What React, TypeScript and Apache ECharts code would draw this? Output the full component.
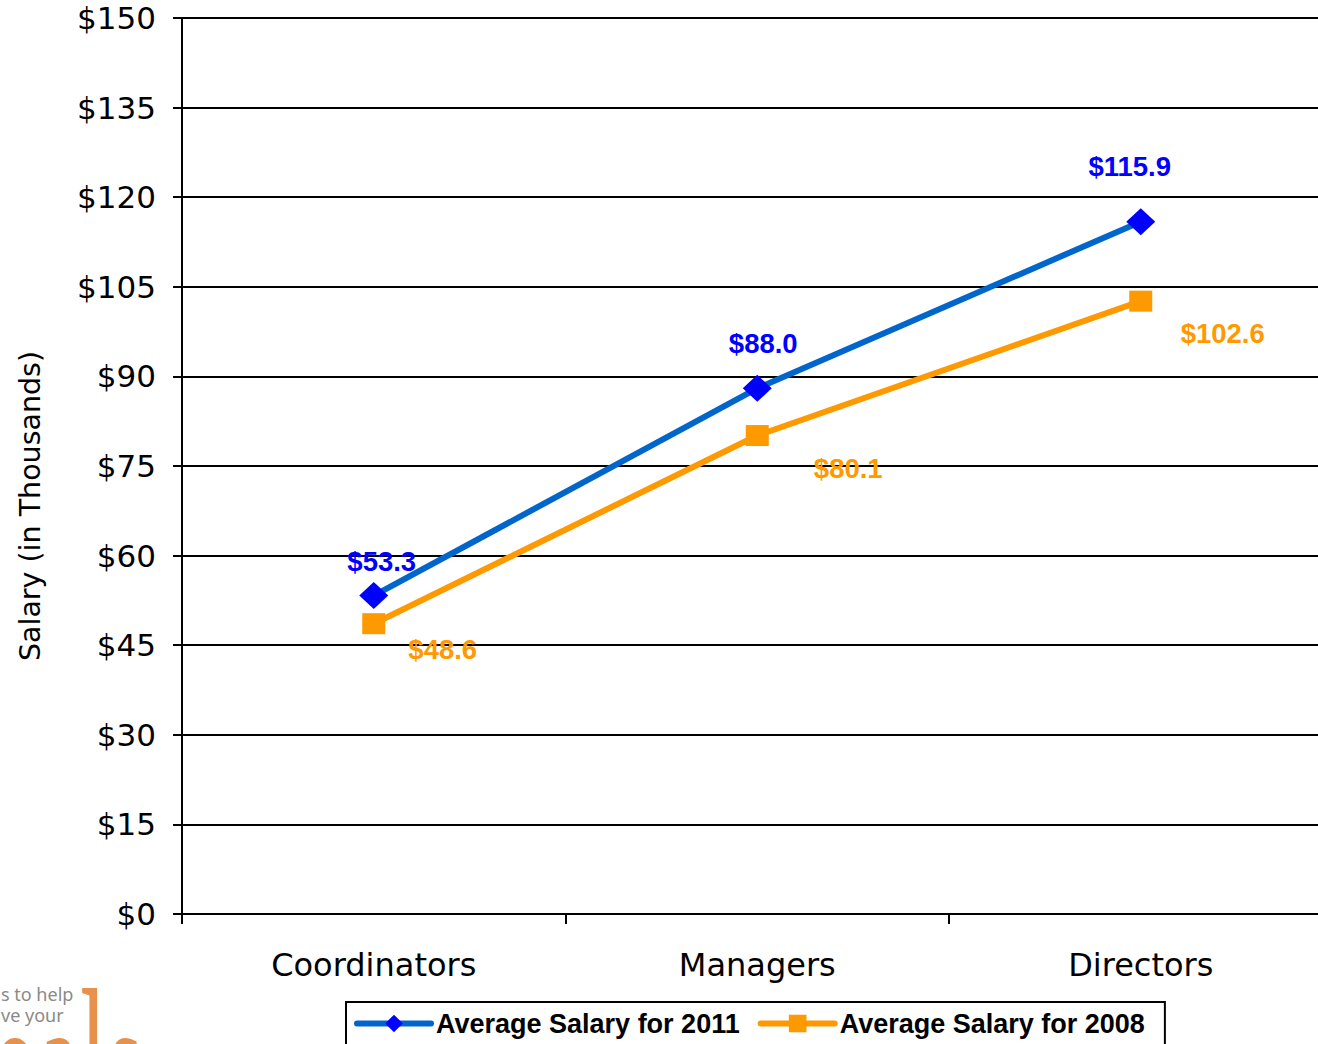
import React, { useEffect, useRef } from "react";
import * as echarts from "echarts";

const categories = ["Coordinators", "Managers", "Directors"];
const salary2011 = [53.3, 88.0, 115.9];
const salary2008 = [48.6, 80.1, 102.6];
const yTicks = [0, 15, 30, 45, 60, 75, 90, 105, 120, 135, 150];
const seriesNames = ["Average Salary for 2011", "Average Salary for 2008"];
const yAxisTitle = "Salary (in Thousands)";
const logoLines = ["s to help", "ve your"];
const logoWord = "oals";

// label placement (style only)
const offsets2011 = [[8, -34], [6, -45], [-11, -55]];
const offsets2008 = [[69, 26], [91, 33], [82, 32]];

export default function App() {
  const ref = useRef<HTMLDivElement>(null);
  useEffect(() => {
    if (!ref.current) return;
    const chart = echarts.init(ref.current, null, { renderer: "svg" });
    const axisFont = "DejaVu Sans";
    const labelFont = "'Liberation Sans', Arial, sans-serif";
    const mk = (vals: number[], offs: number[][]) =>
      vals.map((v, i) => ({ value: v, label: { offset: offs[i] } }));
    chart.setOption({
      animation: false,
      backgroundColor: "#ffffff",
      grid: { left: 182, top: 18, right: 12.5, bottom: 130, containLabel: false },
      xAxis: {
        type: "category",
        data: categories,
        boundaryGap: true,
        axisLine: { lineStyle: { color: "#000", width: 2 } },
        axisTick: { show: true, length: 10, lineStyle: { color: "#000", width: 2 } },
        axisLabel: { color: "#000", fontFamily: axisFont, fontSize: 32, margin: 35 },
      },
      yAxis: {
        type: "value",
        min: yTicks[0],
        max: yTicks[yTicks.length - 1],
        interval: 15,
        axisLine: { show: true, lineStyle: { color: "#000", width: 2 } },
        axisTick: { show: true, length: 9, lineStyle: { color: "#000", width: 2 } },
        axisLabel: {
          color: "#000",
          fontFamily: axisFont,
          fontSize: 31,
          margin: 26,
          formatter: (v: number) => "$" + v,
        },
        splitLine: { show: true, lineStyle: { color: "#000", width: 2 } },
      },
      legend: {
        left: 346,
        top: 1002,
        orient: "horizontal",
        data: seriesNames.map((n) => ({ name: n })),
        borderColor: "#000",
        borderWidth: 2,
        padding: [8, 20, 12, 8],
        itemWidth: 74,
        itemHeight: 22,
        itemGap: 18,
        lineStyle: { width: 6, cap: "round" },
        textStyle: { color: "#000", fontFamily: labelFont, fontWeight: "bold", fontSize: 27 },
      },
      graphic: [
        {
          type: "text",
          x: 30,
          y: 506,
          rotation: Math.PI / 2,
          style: {
            text: yAxisTitle,
            font: "28.5px 'DejaVu Sans'",
            fill: "#000",
            textAlign: "center",
            textVerticalAlign: "middle",
          },
        },
        {
          type: "text",
          x: 1,
          y: 983,
          style: {
            text: logoLines.join("\n"),
            font: "18px 'Noto Sans'",
            lineHeight: 21,
            fill: "#8a8a8a",
            textAlign: "left",
            textVerticalAlign: "top",
          },
        },
        {
          type: "text",
          x: 143,
          y: 1180,
          scaleX: 0.94,
          scaleY: 2.24,
          style: {
            text: logoWord,
            font: "100px 'Liberation Serif'",
            fill: "#E8914A",
            textAlign: "right",
            textVerticalAlign: "bottom",
          },
        },
      ],
      series: [
        {
          name: seriesNames[0],
          type: "line",
          data: mk(salary2011, offsets2011),
          lineStyle: { color: "#0066CC", width: 6 },
          itemStyle: { color: "#0000FF" },
          symbol: "diamond",
          symbolSize: [29, 27],
          label: {
            show: true,
            position: "inside",
            color: "#0000FF",
            fontFamily: labelFont,
            fontWeight: "bold",
            fontSize: 27.5,
            formatter: (p: any) => "$" + Number(p.value).toFixed(1),
          },
          z: 3,
        },
        {
          name: seriesNames[1],
          type: "line",
          data: mk(salary2008, offsets2008),
          lineStyle: { color: "#FF9900", width: 6 },
          itemStyle: { color: "#FF9900" },
          symbol: "rect",
          symbolSize: [23, 21],
          label: {
            show: true,
            position: "inside",
            color: "#FF9900",
            fontFamily: labelFont,
            fontWeight: "bold",
            fontSize: 27.5,
            formatter: (p: any) => "$" + Number(p.value).toFixed(1),
          },
          z: 2,
        },
      ],
    });
    return () => chart.dispose();
  }, []);
  return (
    <div
      style={{
        position: "fixed",
        left: 0,
        top: 0,
        width: 1318,
        height: 1044,
        overflow: "hidden",
        background: "#fff",
      }}
    >
      <div ref={ref} style={{ width: 1345, height: 1044 }} />
    </div>
  );
}
